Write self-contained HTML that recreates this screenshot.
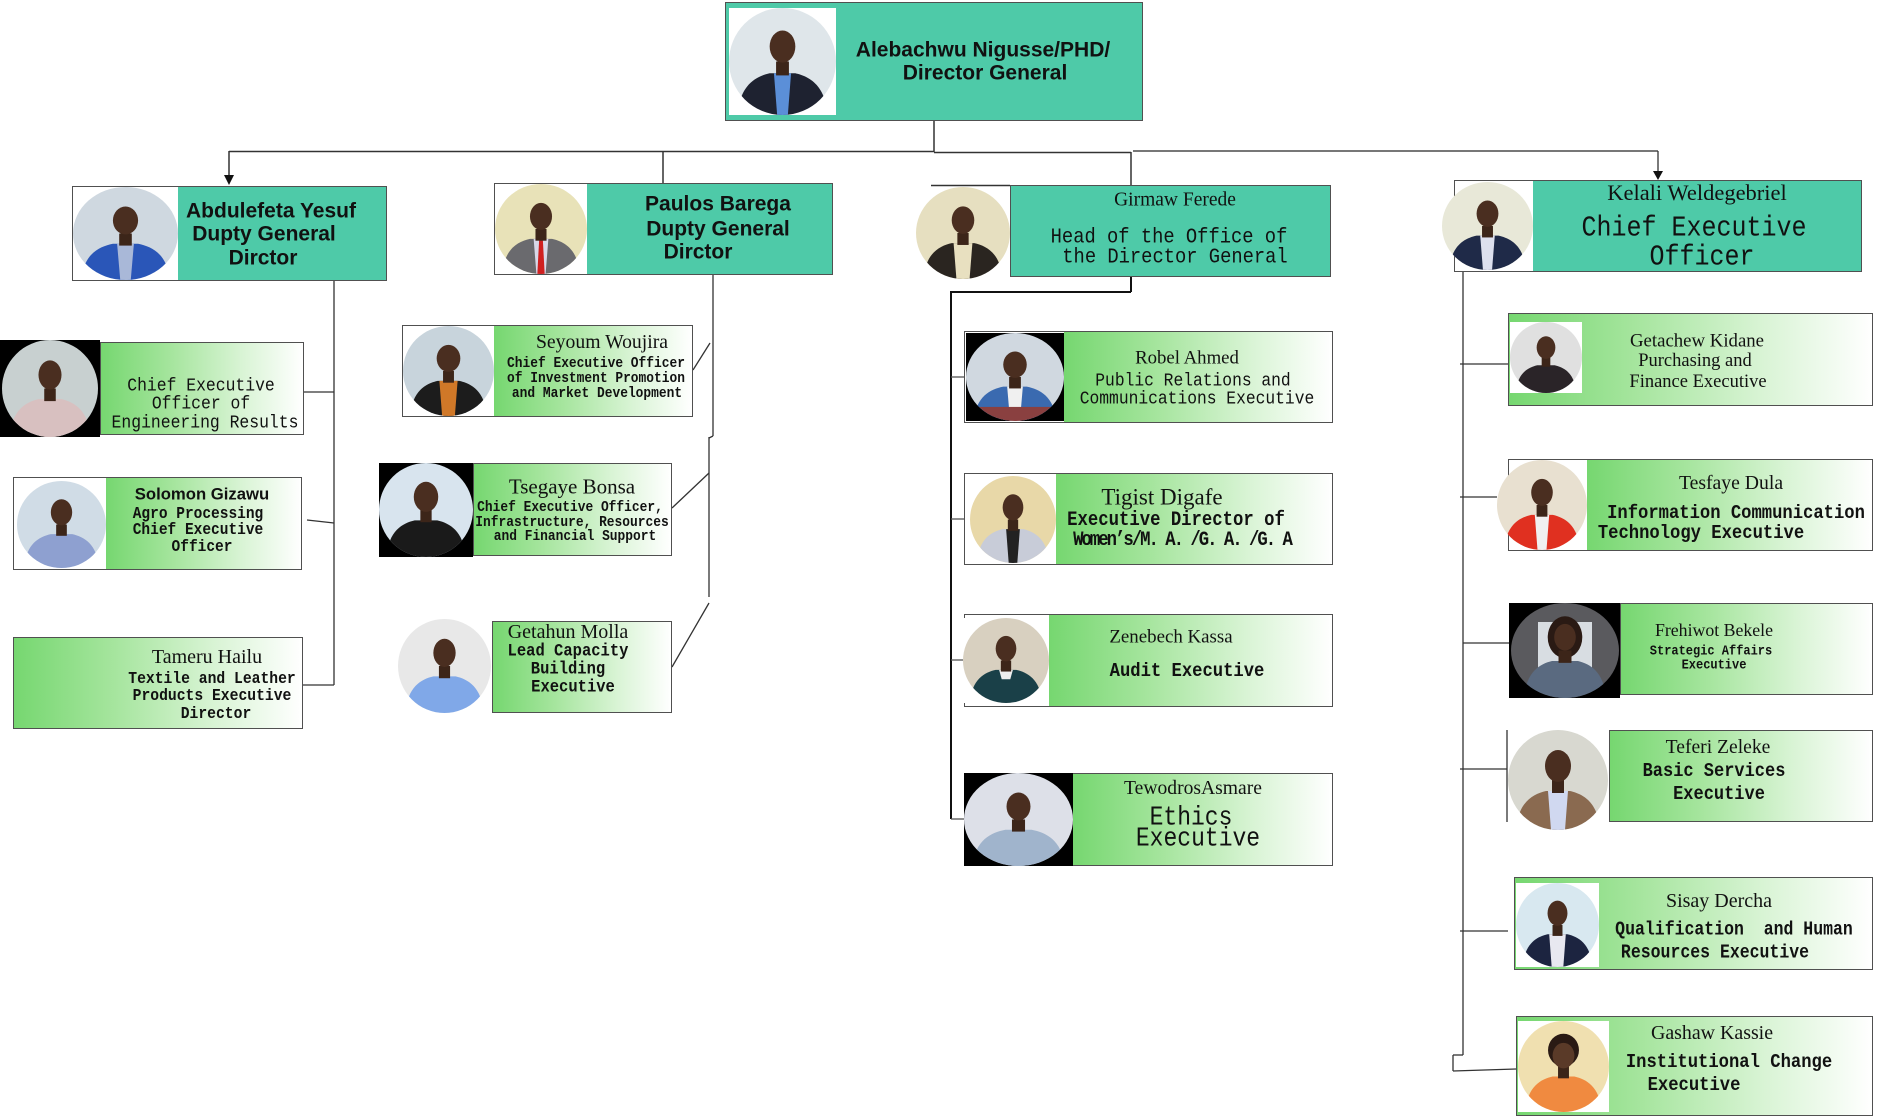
<!DOCTYPE html>
<html><head><meta charset="utf-8">
<style>
body{margin:0;width:1896px;height:1120px;position:relative;background:#fff;overflow:hidden}
.b{position:absolute;box-sizing:border-box;border:1px solid #505050;background:#fff;overflow:hidden}
.tl{background:#4ecaa8}
.g{position:absolute;top:0;bottom:0;right:0;background:linear-gradient(90deg,#76d770 0%,#a6e59e 35%,#d9f4d5 70%,#ffffff 100%)}
.tli{position:absolute;top:0;bottom:0;right:0;background:#4ecaa8}
.ph{position:absolute;overflow:hidden}
.ph .c{position:absolute;left:0;top:0;right:0;bottom:0;border-radius:50%;overflow:hidden}
.ph svg{position:absolute;left:0;top:0;width:100%;height:100%}
.t{position:absolute;white-space:nowrap;transform:translate(-50%,-50%);line-height:1;color:#111}
.sa{font-family:"Liberation Sans",Arial,sans-serif;font-weight:bold}
.se{font-family:"Liberation Serif",serif}
.mo{font-family:"Liberation Mono",monospace;transform:translate(-50%,-50%) scale(1,1.15)}
.bd{font-weight:bold}
</style></head><body>

<svg style="position:absolute;left:0;top:0" width="1896" height="1120">
<g stroke="#333" stroke-width="1.5" fill="none">
<line x1="934" y1="121" x2="934" y2="152"/>
<line x1="229" y1="151.5" x2="934" y2="151.5"/>
<line x1="229" y1="151" x2="229" y2="176"/>
<line x1="663" y1="152" x2="663" y2="183"/>
<line x1="934" y1="152.5" x2="1131" y2="152.5"/>
<line x1="1131" y1="152" x2="1131" y2="185"/>
<line x1="931" y1="185.5" x2="1010" y2="185.5"/>
</g>
<g stroke="#777" stroke-width="2" fill="none">
<line x1="1133" y1="151" x2="1658" y2="151"/>
</g>
<g stroke="#333" stroke-width="1.3" fill="none">
<line x1="1658" y1="151" x2="1658" y2="172"/>
<line x1="334" y1="281" x2="334" y2="685"/>
<line x1="304" y1="392" x2="334" y2="392"/>
<line x1="307" y1="520" x2="334" y2="523"/>
<line x1="303" y1="685" x2="334" y2="685"/>
<line x1="713" y1="275" x2="713" y2="436"/>
<line x1="713" y1="436" x2="709" y2="438"/>
<line x1="709" y1="437" x2="709" y2="597"/>
<line x1="693" y1="370" x2="710" y2="343"/>
<line x1="672" y1="508" x2="709" y2="473"/>
<line x1="672" y1="667" x2="709" y2="603"/>
<line x1="1463" y1="272" x2="1463" y2="1055"/>
<line x1="1463" y1="1055" x2="1453" y2="1055"/>
<line x1="1453" y1="1055" x2="1453" y2="1071"/>
<line x1="1453" y1="1071" x2="1516" y2="1069"/>
<line x1="1460" y1="364" x2="1508" y2="364"/>
<line x1="1460" y1="497" x2="1497" y2="497"/>
<line x1="1463" y1="643" x2="1509" y2="643"/>
<line x1="1460" y1="769" x2="1507" y2="769"/>
<line x1="1507" y1="730" x2="1507" y2="822"/>
<line x1="1460" y1="931" x2="1508" y2="931"/>
</g>
<g stroke="#111" stroke-width="2" fill="none">
<line x1="1131" y1="277" x2="1131" y2="292"/>
<polyline points="1131,292 951,292 951,819"/>
</g>
<g stroke="#555" stroke-width="1.3">
<line x1="951" y1="377" x2="964" y2="377"/>
<line x1="951" y1="519" x2="964" y2="519"/>
<line x1="951" y1="660" x2="964" y2="660"/>
<line x1="951" y1="819" x2="964" y2="819"/>
</g>
<polygon points="224,175 234,175 229,185" fill="#111"/>
<polygon points="1653,171 1663,171 1658,180" fill="#111"/>
</svg>

<!-- DG -->
<div class="b tl" style="left:725px;top:2px;width:418px;height:119px"></div>
<div class="ph" style="left:729px;top:8px;width:107px;height:107px;background:#fff"><div class="c" style="background:#dfe6ea"><svg viewBox="0 0 100 100" preserveAspectRatio="none"><path d="M8,100 C10,72 25,64 38,61 L62,61 C75,64 90,72 92,100Z" fill="#1e2230"/><path d="M42,61 L58,61 L55,100 L45,100Z" fill="#5b8fd8"/><rect x="44" y="50" width="12" height="13" fill="#3c2519"/><ellipse cx="50" cy="36" rx="12" ry="15" fill="#4a2e20"/></svg></div></div>
<div class="t sa" style="left:983px;top:50px;font-size:21px">Alebachwu Nigusse/PHD/</div>
<div class="t sa" style="left:985px;top:73px;font-size:21px">Director General</div>

<!-- Abdulefeta -->
<div class="b tl" style="left:72px;top:186px;width:315px;height:95px"></div>
<div class="ph" style="left:73px;top:187px;width:105px;height:93px;background:#fff"><div class="c" style="background:#cfd8e0"><svg viewBox="0 0 100 100" preserveAspectRatio="none"><path d="M8,100 C10,72 25,64 38,61 L62,61 C75,64 90,72 92,100Z" fill="#2a56b8"/><path d="M42,61 L58,61 L55,100 L45,100Z" fill="#a9b8d8"/><rect x="44" y="50" width="12" height="13" fill="#3c2519"/><ellipse cx="50" cy="36" rx="12" ry="15" fill="#4a2e20"/></svg></div></div>
<div class="t sa" style="left:271px;top:211px;font-size:21px">Abdulefeta Yesuf</div>
<div class="t sa" style="left:264px;top:234px;font-size:21px">Dupty General</div>
<div class="t sa" style="left:263px;top:258px;font-size:21px">Dirctor</div>

<!-- Paulos -->
<div class="b tl" style="left:494px;top:183px;width:339px;height:92px"></div>
<div class="ph" style="left:495px;top:184px;width:92px;height:90px;background:#fff"><div class="c" style="background:#e8e2b8"><svg viewBox="0 0 100 100" preserveAspectRatio="none"><path d="M8,100 C10,72 25,64 38,61 L62,61 C75,64 90,72 92,100Z" fill="#6a6a6e"/><path d="M42,61 L58,61 L55,100 L45,100Z" fill="#d8d8e8"/><path d="M48,62 L52,62 L54,100 L46,100Z" fill="#d02020"/><rect x="44" y="50" width="12" height="13" fill="#3c2519"/><ellipse cx="50" cy="36" rx="12" ry="15" fill="#4a2e20"/></svg></div></div>
<div class="t sa" style="left:718px;top:204px;font-size:21px">Paulos Barega</div>
<div class="t sa" style="left:718px;top:229px;font-size:21px">Dupty General</div>
<div class="t sa" style="left:698px;top:252px;font-size:21px">Dirctor</div>

<!-- Girmaw -->
<div class="b tl" style="left:1010px;top:185px;width:321px;height:92px"></div>
<div class="ph" style="left:916px;top:187px;width:94px;height:92px"><div class="c" style="background:#e6dfc0"><svg viewBox="0 0 100 100" preserveAspectRatio="none"><path d="M8,100 C10,72 25,64 38,61 L62,61 C75,64 90,72 92,100Z" fill="#2a2520"/><path d="M40,61 L60,61 L57,100 L43,100Z" fill="#e8e0c0"/><rect x="44" y="50" width="12" height="13" fill="#3c2519"/><ellipse cx="50" cy="36" rx="12" ry="15" fill="#4a2e20"/></svg></div></div>
<div class="t se" style="left:1175px;top:200px;font-size:19.5px">Girmaw Ferede</div>
<div class="t mo" style="left:1169px;top:237px;font-size:18.8px">Head of the Office of</div>
<div class="t mo" style="left:1175px;top:257px;font-size:18.8px">the Director General</div>

<!-- Kelali -->
<div class="b" style="left:1454px;top:180px;width:408px;height:92px"><div class="tli" style="left:78px"></div></div>
<div class="ph" style="left:1442px;top:182px;width:91px;height:88px"><div class="c" style="background:#e8e8d8"><svg viewBox="0 0 100 100" preserveAspectRatio="none"><path d="M8,100 C10,72 25,64 38,61 L62,61 C75,64 90,72 92,100Z" fill="#1f2a48"/><path d="M42,61 L58,61 L55,100 L45,100Z" fill="#dde0ee"/><rect x="44" y="50" width="12" height="13" fill="#3c2519"/><ellipse cx="50" cy="36" rx="12" ry="15" fill="#4a2e20"/></svg></div></div>
<div class="t se" style="left:1697px;top:193px;font-size:22.5px">Kelali Weldegebriel</div>
<div class="t mo" style="left:1694px;top:228px;font-size:25px">Chief Executive</div>
<div class="t mo" style="left:1702px;top:257px;font-size:25px">Officer</div>

<!-- Engineering -->
<div class="ph" style="left:0px;top:340px;width:100px;height:97px;background:#000"><div class="c" style="left:2px;right:2px;background:#c8d0d0"><svg viewBox="0 0 100 100" preserveAspectRatio="none"><path d="M8,100 C10,72 25,64 38,61 L62,61 C75,64 90,72 92,100Z" fill="#d8c0c0"/><rect x="44" y="50" width="12" height="13" fill="#3c2519"/><ellipse cx="50" cy="36" rx="12" ry="15" fill="#4a2e20"/></svg></div></div>
<div class="b" style="left:100px;top:342px;width:204px;height:93px"><div class="g" style="left:0"></div></div>
<div class="t mo" style="left:201px;top:386px;font-size:16.4px">Chief Executive</div>
<div class="t mo" style="left:201px;top:404px;font-size:16.4px">Officer of</div>
<div class="t mo" style="left:205px;top:423px;font-size:16.4px">Engineering Results</div>

<!-- Solomon -->
<div class="b" style="left:13px;top:477px;width:289px;height:93px"><div class="g" style="left:92px"></div></div>
<div class="ph" style="left:17px;top:481px;width:89px;height:87px;background:#fff"><div class="c" style="background:#d0dce6"><svg viewBox="0 0 100 100" preserveAspectRatio="none"><path d="M8,100 C10,72 25,64 38,61 L62,61 C75,64 90,72 92,100Z" fill="#8ea0d0"/><rect x="44" y="50" width="12" height="13" fill="#3c2519"/><ellipse cx="50" cy="36" rx="12" ry="15" fill="#4a2e20"/></svg></div></div>
<div class="t sa" style="left:202px;top:495px;font-size:16.7px">Solomon Gizawu</div>
<div class="t mo bd" style="left:198px;top:515px;font-size:14.5px">Agro Processing</div>
<div class="t mo bd" style="left:198px;top:531px;font-size:14.5px">Chief Executive</div>
<div class="t mo bd" style="left:202px;top:548px;font-size:14.5px">Officer</div>

<!-- Tameru -->
<div class="b" style="left:13px;top:637px;width:290px;height:92px"><div class="g" style="left:0"></div></div>
<div class="t se" style="left:207px;top:657px;font-size:20px">Tameru Hailu</div>
<div class="t mo bd" style="left:212px;top:680px;font-size:14.7px">Textile and Leather</div>
<div class="t mo bd" style="left:212px;top:697px;font-size:14.7px">Products Executive</div>
<div class="t mo bd" style="left:216px;top:715px;font-size:14.7px">Director</div>

<!-- Seyoum -->
<div class="b" style="left:402px;top:325px;width:291px;height:92px"><div class="g" style="left:91px"></div></div>
<div class="ph" style="left:403px;top:326px;width:91px;height:90px;background:#fff"><div class="c" style="background:#c8d4dc"><svg viewBox="0 0 100 100" preserveAspectRatio="none"><path d="M8,100 C10,72 25,64 38,61 L62,61 C75,64 90,72 92,100Z" fill="#1c1c1c"/><path d="M40,61 L60,61 L57,100 L43,100Z" fill="#d07828"/><rect x="44" y="50" width="12" height="13" fill="#3c2519"/><ellipse cx="50" cy="36" rx="13" ry="15" fill="#4a2e20"/></svg></div></div>
<div class="t se" style="left:602px;top:343px;font-size:19.7px">Seyoum Woujira</div>
<div class="t mo bd" style="left:596px;top:364px;font-size:12.9px">Chief Executive Officer</div>
<div class="t mo bd" style="left:596px;top:379px;font-size:12.9px">of Investment Promotion</div>
<div class="t mo bd" style="left:597px;top:394px;font-size:12.9px">and Market Development</div>

<!-- Tsegaye -->
<div class="ph" style="left:379px;top:463px;width:94px;height:94px;background:#000"><div class="c" style="background:#d8e4ee"><svg viewBox="0 0 100 100" preserveAspectRatio="none"><path d="M8,100 C10,72 25,64 38,61 L62,61 C75,64 90,72 92,100Z" fill="#1a1a1a"/><rect x="44" y="50" width="12" height="13" fill="#3c2519"/><ellipse cx="50" cy="36" rx="13" ry="16" fill="#4a2e20"/></svg></div></div>
<div class="b" style="left:473px;top:463px;width:199px;height:93px"><div class="g" style="left:0"></div></div>
<div class="t se" style="left:572px;top:487px;font-size:21px">Tsegaye Bonsa</div>
<div class="t mo bd" style="left:570px;top:508px;font-size:12.9px">Chief Executive Officer,</div>
<div class="t mo bd" style="left:572px;top:523px;font-size:12.9px">Infrastructure, Resources</div>
<div class="t mo bd" style="left:575px;top:537px;font-size:12.9px">and Financial Support</div>

<!-- Getahun -->
<div class="ph" style="left:398px;top:619px;width:93px;height:94px"><div class="c" style="background:#e8e8e8"><svg viewBox="0 0 100 100" preserveAspectRatio="none"><path d="M8,100 C10,72 25,64 38,61 L62,61 C75,64 90,72 92,100Z" fill="#80a8e8"/><rect x="44" y="50" width="12" height="13" fill="#3c2519"/><ellipse cx="50" cy="36" rx="12" ry="15" fill="#4a2e20"/></svg></div></div>
<div class="b" style="left:492px;top:621px;width:180px;height:92px"><div class="g" style="left:0"></div></div>
<div class="t se" style="left:568px;top:632px;font-size:20px">Getahun Molla</div>
<div class="t mo bd" style="left:568px;top:652px;font-size:15.5px">Lead Capacity</div>
<div class="t mo bd" style="left:568px;top:670px;font-size:15.5px">Building</div>
<div class="t mo bd" style="left:573px;top:688px;font-size:15.5px">Executive</div>

<!-- Robel -->
<div class="b" style="left:964px;top:331px;width:369px;height:92px"><div class="g" style="left:99px"></div></div>
<div class="ph" style="left:966px;top:333px;width:98px;height:88px;background:#000"><div class="c" style="background:#d0d8e0"><svg viewBox="0 0 100 100" preserveAspectRatio="none"><path d="M8,100 C10,72 25,64 38,61 L62,61 C75,64 90,72 92,100Z" fill="#3a6ab0"/><path d="M42,61 L58,61 L55,100 L45,100Z" fill="#f0f0f0"/><rect x="0" y="84" width="100" height="16" fill="#8a4040"/><rect x="44" y="50" width="12" height="13" fill="#3c2519"/><ellipse cx="50" cy="36" rx="12" ry="15" fill="#4a2e20"/></svg></div></div>
<div class="t se" style="left:1187px;top:359px;font-size:18.8px">Robel Ahmed</div>
<div class="t mo" style="left:1193px;top:381px;font-size:16.3px">Public Relations and</div>
<div class="t mo" style="left:1197px;top:399px;font-size:16.3px">Communications Executive</div>

<!-- Tigist -->
<div class="b" style="left:964px;top:473px;width:369px;height:92px"><div class="g" style="left:91px"></div></div>
<div class="ph" style="left:970px;top:476px;width:86px;height:87px;background:#fff"><div class="c" style="background:#e8d8a8"><svg viewBox="0 0 100 100" preserveAspectRatio="none"><path d="M8,100 C10,72 25,64 38,61 L62,61 C75,64 90,72 92,100Z" fill="#c8ccd8"/><path d="M42,61 L58,61 L55,100 L45,100Z" fill="#222"/><rect x="44" y="50" width="12" height="13" fill="#3c2519"/><ellipse cx="50" cy="36" rx="12" ry="15" fill="#4a2e20"/></svg></div></div>
<div class="t se" style="left:1162px;top:497px;font-size:23px">Tigist Digafe</div>
<div class="t mo bd" style="left:1176px;top:521px;font-size:17.3px">Executive Director of</div>
<div class="t mo bd" style="left:1182px;top:541px;font-size:17.3px;letter-spacing:-2px">Women’s/M. A. /G. A. /G. A</div>

<!-- Zenebech -->
<div class="b" style="left:964px;top:614px;width:369px;height:93px"><div class="g" style="left:84px"></div></div>
<div class="ph" style="left:963px;top:618px;width:86px;height:85px;background:#fff"><div class="c" style="background:#d8d0c0"><svg viewBox="0 0 100 100" preserveAspectRatio="none"><path d="M8,100 C10,72 25,64 38,61 L62,61 C75,64 90,72 92,100Z" fill="#1a4048"/><path d="M42,61 L58,61 L55,72 L45,72Z" fill="#eee"/><rect x="44" y="50" width="12" height="13" fill="#3c2519"/><ellipse cx="50" cy="36" rx="12" ry="15" fill="#4a2e20"/></svg></div></div>
<div class="t se" style="left:1171px;top:638px;font-size:18.9px">Zenebech Kassa</div>
<div class="t mo bd" style="left:1187px;top:672px;font-size:17.2px">Audit Executive</div>

<!-- Tewodros -->
<div class="b" style="left:964px;top:773px;width:369px;height:93px"><div class="g" style="left:108px"></div></div>
<div class="ph" style="left:964px;top:773px;width:109px;height:93px;background:#000"><div class="c" style="background:#dde0e8"><svg viewBox="0 0 100 100" preserveAspectRatio="none"><path d="M8,100 C10,72 25,64 38,61 L62,61 C75,64 90,72 92,100Z" fill="#a0b4cc"/><rect x="44" y="50" width="12" height="13" fill="#3c2519"/><ellipse cx="50" cy="36" rx="11" ry="15" fill="#4a2e20"/></svg></div></div>
<div class="t se" style="left:1193px;top:789px;font-size:19.6px">TewodrosAsmare</div>
<div class="t mo" style="left:1191px;top:818px;font-size:23px">Ethics</div>
<div class="t mo" style="left:1198px;top:839px;font-size:23px">Executive</div>

<!-- Getachew -->
<div class="b" style="left:1508px;top:313px;width:365px;height:93px"><div class="g" style="left:0"></div></div>
<div class="ph" style="left:1510px;top:322px;width:72px;height:71px;background:#fff"><div class="c" style="background:#e0e0e0"><svg viewBox="0 0 100 100" preserveAspectRatio="none"><path d="M8,100 C10,72 25,64 38,61 L62,61 C75,64 90,72 92,100Z" fill="#2a2428"/><rect x="44" y="50" width="12" height="13" fill="#3c2519"/><ellipse cx="50" cy="36" rx="13" ry="16" fill="#4a2e20"/></svg></div></div>
<div class="t se" style="left:1697px;top:342px;font-size:18.8px">Getachew Kidane</div>
<div class="t se" style="left:1695px;top:361px;font-size:18.5px">Purchasing and</div>
<div class="t se" style="left:1698px;top:382px;font-size:18.5px">Finance Executive</div>

<!-- Tesfaye -->
<div class="b" style="left:1508px;top:459px;width:365px;height:92px"><div class="g" style="left:78px"></div></div>
<div class="ph" style="left:1497px;top:460px;width:90px;height:90px"><div class="c" style="background:#e8e0d0"><svg viewBox="0 0 100 100" preserveAspectRatio="none"><path d="M8,100 C10,72 25,64 38,61 L62,61 C75,64 90,72 92,100Z" fill="#e03020"/><path d="M42,61 L58,61 L55,100 L45,100Z" fill="#f0f0f0"/><rect x="44" y="50" width="12" height="13" fill="#3c2519"/><ellipse cx="50" cy="36" rx="12" ry="15" fill="#4a2e20"/></svg></div></div>
<div class="t se" style="left:1731px;top:484px;font-size:19.7px">Tesfaye Dula</div>
<div class="t mo bd" style="left:1736px;top:514px;font-size:17.2px">Information Communication</div>
<div class="t mo bd" style="left:1701px;top:534px;font-size:17.2px">Technology Executive</div>

<!-- Frehiwot -->
<div class="ph" style="left:1509px;top:603px;width:111px;height:95px;background:#000"><div class="c" style="left:2px;right:1px;background:#5a5a5e"><svg viewBox="0 0 100 100" preserveAspectRatio="none"><rect x="25" y="20" width="50" height="50" fill="#d8dde2"/><path d="M12,100 C14,72 27,64 38,61 L62,61 C73,64 86,72 88,100Z" fill="#5a6a80"/><ellipse cx="50" cy="36" rx="16" ry="22" fill="#2a1a14"/><rect x="44" y="50" width="12" height="13" fill="#3c2519"/><ellipse cx="50" cy="36" rx="10" ry="14" fill="#4a2e20"/></svg></div></div>
<div class="b" style="left:1620px;top:603px;width:253px;height:92px"><div class="g" style="left:0"></div></div>
<div class="t se" style="left:1714px;top:631px;font-size:17.8px">Frehiwot Bekele</div>
<div class="t mo bd" style="left:1711px;top:651px;font-size:12px">Strategic Affairs</div>
<div class="t mo bd" style="left:1714px;top:665px;font-size:12px">Executive</div>

<!-- Teferi -->
<div class="ph" style="left:1508px;top:730px;width:100px;height:100px"><div class="c" style="background:#d8d8d0"><svg viewBox="0 0 100 100" preserveAspectRatio="none"><path d="M8,100 C10,72 25,64 38,61 L62,61 C75,64 90,72 92,100Z" fill="#8a6a50"/><path d="M40,61 L60,61 L57,100 L43,100Z" fill="#d0d8f0"/><rect x="44" y="50" width="12" height="13" fill="#3c2519"/><ellipse cx="50" cy="36" rx="13" ry="16" fill="#4a2e20"/></svg></div></div>
<div class="b" style="left:1609px;top:730px;width:264px;height:92px"><div class="g" style="left:0"></div></div>
<div class="t se" style="left:1718px;top:748px;font-size:19.6px">Teferi Zeleke</div>
<div class="t mo bd" style="left:1714px;top:772px;font-size:17px">Basic Services</div>
<div class="t mo bd" style="left:1719px;top:795px;font-size:17px">Executive</div>

<!-- Sisay -->
<div class="b" style="left:1514px;top:877px;width:359px;height:93px"><div class="g" style="left:0"></div></div>
<div class="ph" style="left:1516px;top:883px;width:83px;height:84px;background:#fff"><div class="c" style="background:#d8e8f0"><svg viewBox="0 0 100 100" preserveAspectRatio="none"><path d="M8,100 C10,72 25,64 38,61 L62,61 C75,64 90,72 92,100Z" fill="#1c2440"/><path d="M40,61 L60,61 L57,100 L43,100Z" fill="#e8e8f0"/><rect x="44" y="50" width="12" height="13" fill="#3c2519"/><ellipse cx="50" cy="36" rx="12" ry="15" fill="#4a2e20"/></svg></div></div>
<div class="t se" style="left:1719px;top:901px;font-size:20px">Sisay Dercha</div>
<div class="t mo bd" style="left:1734px;top:930px;font-size:16.5px">Qualification&nbsp; and Human</div>
<div class="t mo bd" style="left:1715px;top:953px;font-size:16.5px">Resources Executive</div>

<!-- Gashaw -->
<div class="b" style="left:1516px;top:1016px;width:357px;height:100px"><div class="g" style="left:0"></div></div>
<div class="ph" style="left:1518px;top:1021px;width:91px;height:91px;background:#fff"><div class="c" style="background:#f0e0b0"><svg viewBox="0 0 100 100" preserveAspectRatio="none"><path d="M8,100 C10,72 25,64 38,61 L62,61 C75,64 90,72 92,100Z" fill="#f08a40"/><ellipse cx="50" cy="32" rx="17" ry="18" fill="#2a1a14"/><rect x="44" y="50" width="12" height="13" fill="#3c2519"/><ellipse cx="50" cy="38" rx="12" ry="14" fill="#5a3a28"/></svg></div></div>
<div class="t se" style="left:1712px;top:1034px;font-size:19.9px">Gashaw Kassie</div>
<div class="t mo bd" style="left:1729px;top:1063px;font-size:17.2px">Institutional Change</div>
<div class="t mo bd" style="left:1694px;top:1086px;font-size:17.2px">Executive</div>

</body></html>
